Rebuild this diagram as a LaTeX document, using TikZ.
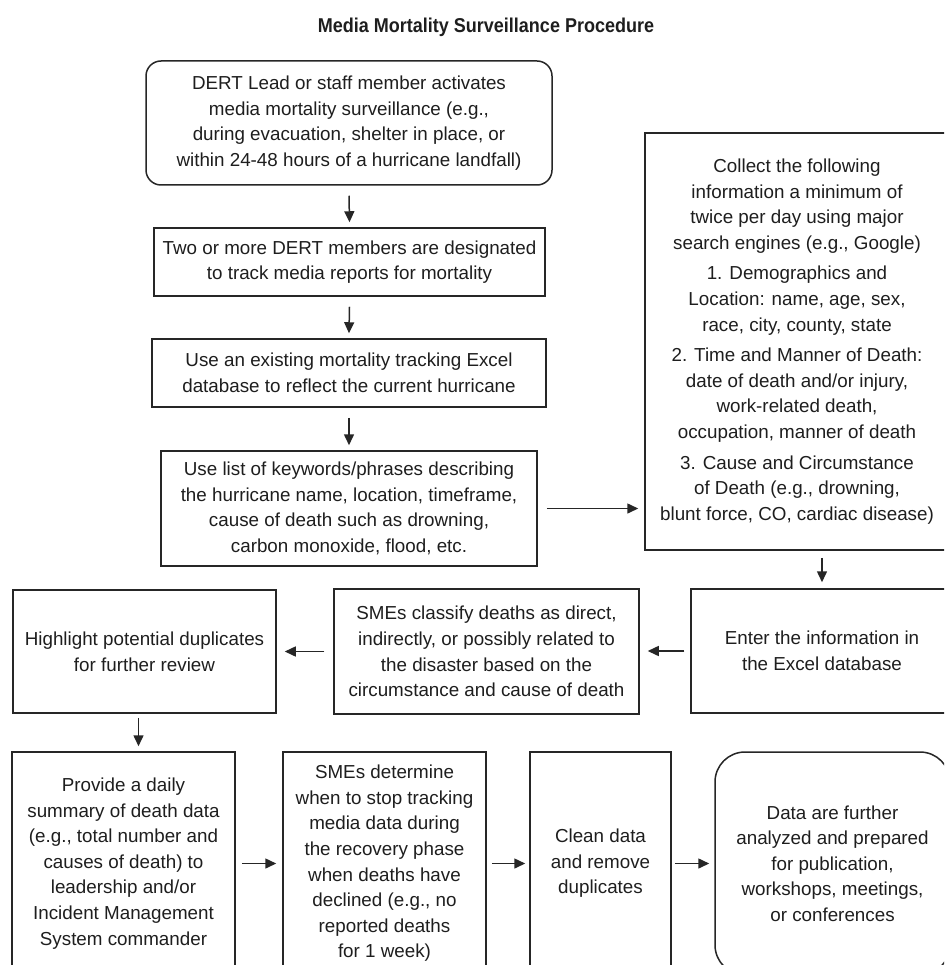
\documentclass[tikz,border=0pt]{standalone}
\usepackage{fontspec}
\setmainfont{Liberation Sans}
\newfontfamily\titlefont[FakeStretch=0.9]{Liberation Sans}
\usetikzlibrary{arrows.meta}
\definecolor{ink}{HTML}{1E1E1E}
\definecolor{edge}{HTML}{262626}
\begin{document}
\begin{tikzpicture}[x=1pt,y=-1pt,
  box/.style={draw=edge, line width=1.5pt, inner sep=0pt, align=center, text=ink,
    font=\fontsize{18.8}{25.6}\selectfont},
  rbox/.style={box, rounded corners=15pt},
  rboxbig/.style={box, rounded corners=30pt},
  titlestyle/.style={inner sep=0pt, text=ink, font=\titlefont\bfseries\fontsize{20}{24}\selectfont},
  arr/.style={draw=edge, line width=1.5pt, -{Triangle[length=11pt,width=10pt]}}]
\fill[white] (0,0) rectangle (944,965);
\useasboundingbox (0,0) rectangle (944,965);
\clip (0,0) rectangle (944,965);

\node[titlestyle] (title) at (486,27) {Media Mortality Surveillance Procedure};

\node[rbox, minimum width=406pt, minimum height=124pt] (b1) at (349,123)
  {DERT Lead or staff member activates\\media mortality surveillance (e.g.,\\during evacuation, shelter in place, or\\within 24-48 hours of a hurricane landfall)};
\node[box, minimum width=391pt, minimum height=68pt] (b2) at (349.5,262)
  {Two or more DERT members are designated\\to track media reports for mortality};
\node[box, minimum width=394pt, minimum height=68pt] (b3) at (349,373)
  {Use an existing mortality tracking Excel\\database to reflect the current hurricane};
\node[box, minimum width=376pt, minimum height=115pt] (b4) at (349,508.5)
  {Use list of keywords/phrases describing\\the hurricane name, location, timeframe,\\cause of death such as drowning,\\carbon monoxide, flood, etc.};
\node[box, minimum width=304pt, minimum height=417pt] (b5) at (797,341.5)
  {Collect the following\\information a minimum of\\twice per day using major\\search engines (e.g., Google)\\[5pt]
   1. Demographics and\\Location: name, age, sex,\\race, city, county, state\\[5pt]
   2. Time and Manner of Death:\\date of death and/or injury,\\work-related death,\\occupation, manner of death\\[5pt]
   3. Cause and Circumstance\\of Death (e.g., drowning,\\blunt force, CO, cardiac disease)};
\node[box, minimum width=262pt, minimum height=124pt] (b6) at (822,651)
  {Enter the information in\\the Excel database};
\node[box, minimum width=305pt, minimum height=125pt] (b7) at (486.5,651.5)
  {SMEs classify deaths as direct,\\indirectly, or possibly related to\\the disaster based on the\\circumstance and cause of death};
\node[box, minimum width=263pt, minimum height=123pt] (b8) at (144.5,651.5)
  {Highlight potential duplicates\\for further review};

\node[box, minimum width=223pt, minimum height=223pt] (b9) at (123.5,863.5)
  {Provide a daily\\summary of death data\\(e.g., total number and\\causes of death) to\\leadership and/or\\Incident Management\\System commander};
\node[box, minimum width=203pt, minimum height=223pt] (b10) at (384.5,863.5)
  {SMEs determine\\when to stop tracking\\media data during\\the recovery phase\\when deaths have\\declined (e.g., no\\reported deaths\\for 1 week)};
\node[box, minimum width=141pt, minimum height=223pt] (b11) at (600.5,863.5)
  {Clean data\\and remove\\duplicates};
\node[rboxbig, minimum width=235pt, minimum height=223pt] (b12) at (832.5,863.5)
  {Data are further\\analyzed and prepared\\for publication,\\workshops, meetings,\\or conferences};

\draw[arr] ([yshift=-10pt]b1.south) -- ([yshift=5pt]b2.north);
\draw[arr] ([yshift=-10pt]b2.south) -- ([yshift=5pt]b3.north);
\draw[arr] ([yshift=-10pt]b3.south) -- ([yshift=5pt]b4.north);
\draw[arr] ([xshift=9pt]b4.east) -- ([xshift=-6pt]b5.west |- b4.east);
\draw[arr] ([yshift=-7pt]b6.north |- b5.south) -- ([yshift=6pt]b6.north);
\draw[arr] ([xshift=-6pt]b6.west) -- ([xshift=8pt]b7.east |- b6.west);
\draw[arr] ([xshift=-9pt]b7.west) -- ([xshift=8pt]b8.east |- b7.west);
\draw[arr] ([xshift=-6pt,yshift=-4pt]b8.south) -- ([xshift=-6pt,yshift=5pt]b8.south |- b9.north);
\draw[arr] ([xshift=6pt]b9.east) -- ([xshift=-6pt]b10.west);
\draw[arr] ([xshift=5pt]b10.east) -- ([xshift=-4pt]b11.west);
\draw[arr] ([xshift=3pt]b11.east) -- ([xshift=-5pt]b12.west);
\end{tikzpicture}
\end{document}
